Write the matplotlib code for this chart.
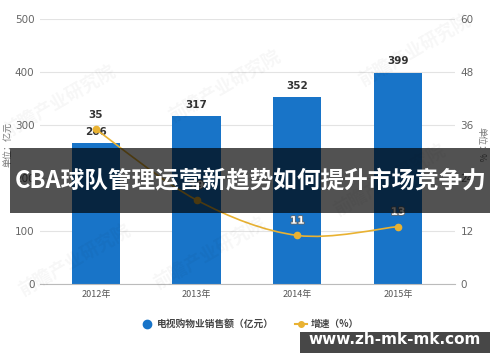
import numpy as np
import matplotlib
matplotlib.use("Agg")
import matplotlib.pyplot as plt
from matplotlib.path import Path
from matplotlib.patches import PathPatch, Rectangle
from matplotlib.lines import Line2D
import matplotlib.patheffects as pe

plt.rcParams['font.family'] = ['Noto Sans CJK SC', 'DejaVu Sans']

# 数据
years = ['2012年', '2013年', '2014年', '2015年']
sales = [266, 317, 352, 399]        # 电视购物业销售额（亿元）
growth = [35, 19, 11, 13]           # 增速（%）
left_ticks = [0, 100, 200, 300, 400, 500]
right_ticks = [0, 12, 24, 36, 48, 60]

bar_color = '#1874c8'
line_color = '#e9b232'

fig = plt.figure(figsize=(5, 3.62), dpi=100)
ax = fig.add_axes([0.08, 0.2155, 0.83, 0.732])
ax2 = ax.twinx()

x = np.arange(len(years))
ax.bar(x, sales, width=0.48, color=bar_color, zorder=2)
for xi, v in zip(x, sales):
    ax.text(xi, v + 12, str(v), ha='center', va='bottom', fontsize=7.5,
            fontweight='bold', color='#333333', family='DejaVu Sans', zorder=5)

ax.set_xlim(-0.556, 3.566)
ax.set_ylim(0, 500)
ax.set_yticks(left_ticks)
ax.set_xticks(x)
ax.set_xticklabels(years, fontsize=6.5, color='#555555')
ax.grid(axis='y', color='#e3e3e3', linewidth=0.8, zorder=0)
ax.set_axisbelow(True)
for s in ['top', 'left', 'right']:
    ax.spines[s].set_visible(False)
ax.spines['bottom'].set_color('#bbbbbb')
ax.tick_params(length=0, pad=4)
for lab in ax.get_yticklabels():
    lab.set_family(['Liberation Sans Narrow', 'DejaVu Sans'])
    lab.set_fontsize(7.5)
    lab.set_color('#666666')

# 增速曲线（平滑）
ax2.set_ylim(0, 60)
ax2.set_yticks(right_ticks)
ax2.tick_params(length=0, pad=4)
for lab in ax2.get_yticklabels():
    lab.set_family(['Liberation Sans Narrow', 'DejaVu Sans'])
    lab.set_fontsize(7.5)
    lab.set_color('#666666')
for s in ax2.spines.values():
    s.set_visible(False)

pts = np.column_stack([x, growth]).astype(float)
ext = np.vstack([pts[0], pts, pts[-1]])
verts = [tuple(pts[0])]
codes = [Path.MOVETO]
for i in range(len(pts) - 1):
    p0, p1, p2, p3 = ext[i], ext[i + 1], ext[i + 2], ext[i + 3]
    c1 = p1 + (p2 - p0) / 6
    c2 = p2 - (p3 - p1) / 6
    verts += [tuple(c1), tuple(c2), tuple(p2)]
    codes += [Path.CURVE4] * 3
ax2.add_patch(PathPatch(Path(verts, codes), fill=False, edgecolor=line_color,
                        linewidth=1.2, zorder=3))
ax2.plot(x, growth, 'o', color=line_color, markersize=4.5, zorder=4)
for xi, v in zip(x, growth):
    t = ax2.text(xi, v + 2.2, str(v), ha='center', va='bottom', fontsize=7.5,
                 fontweight='bold', family='DejaVu Sans',
                 color='#333333' if xi == 0 else 'white', zorder=5)
    if xi != 0:
        t.set_path_effects([pe.withStroke(linewidth=1.2, foreground='#666666')])

# 单位
fig.text(0.016, 0.60, '单位：亿元', rotation=90, fontsize=6.5, color='#777777',
         ha='center', va='center')
fig.text(0.962, 0.60, '单位：%', rotation=270, fontsize=6.5, color='#777777',
         ha='center', va='center')

# 水印
for wx, wy in [(0.12, 0.72), (0.45, 0.76), (0.15, 0.28), (0.42, 0.30), (0.78, 0.50), (0.83, 0.86)]:
    fig.text(wx, wy, '前瞻产业研究院', rotation=30, fontsize=13, color='#000000',
             alpha=0.035, ha='center', va='center', fontweight='bold')

# 图例
handles = [Line2D([], [], marker='o', linestyle='none', color=bar_color, markersize=6),
           Line2D([], [], marker='o', color=line_color, markersize=4, linewidth=1.5)]
leg = fig.legend(handles, ['电视购物业销售额（亿元）', '增速（%）'], loc='center',
                 bbox_to_anchor=(0.5, 1 - 324 / 362), ncol=2, frameon=False,
                 fontsize=7, handlelength=1.2, handletextpad=0.4, columnspacing=2.2)
for t in leg.get_texts():
    t.set_fontweight('bold')
    t.set_color('#444444')

# 标题横幅
fig.patches.append(Rectangle((10 / 500, 1 - 213 / 362), 480 / 500, 65 / 362,
                             transform=fig.transFigure, facecolor='black',
                             alpha=0.68, zorder=10))
fig.text(0.502, 1 - 181 / 362, 'CBA球队管理运营新趋势如何提升市场竞争力', ha='center',
         va='center', fontsize=17, fontweight='bold', color='white', zorder=11)

# 网址横幅
fig.patches.append(Rectangle((300 / 500, 1 - 353 / 362), 190 / 500, 21 / 362,
                             transform=fig.transFigure, facecolor='black',
                             alpha=0.72, zorder=10))
fig.text(0.79, 1 - 339 / 362, 'www.zh-mk-mk.com', ha='center', va='center',
         fontsize=11, fontweight='bold', color='white', family='DejaVu Sans', zorder=11)

fig.savefig('out.png', dpi=100)
